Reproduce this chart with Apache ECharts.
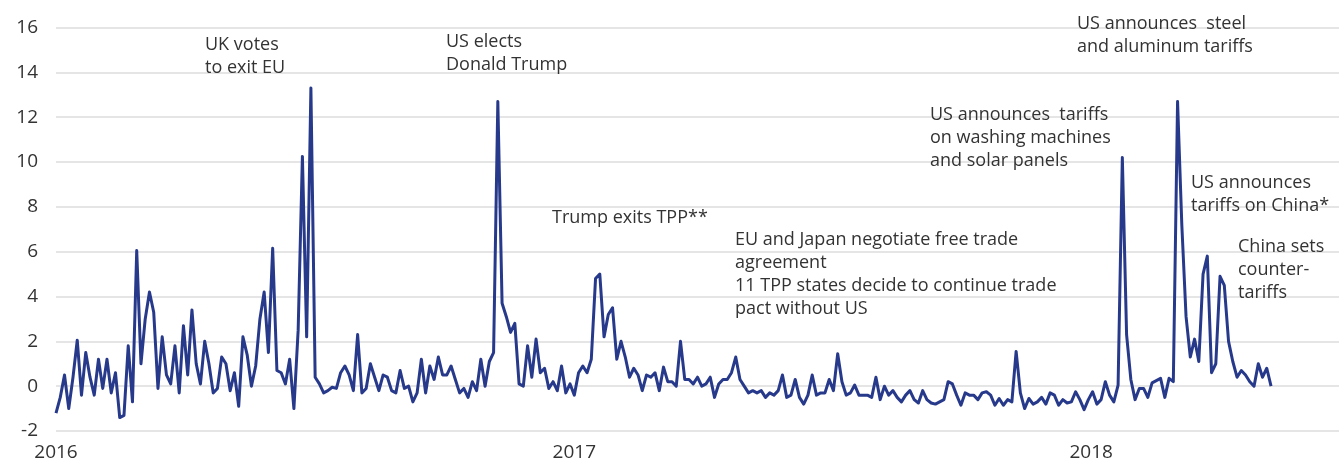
<!DOCTYPE html>
<html>
<head>
<meta charset="utf-8">
<script src="https://cdn.jsdelivr.net/npm/echarts@6/dist/echarts.min.js"></script>
<style>
  html, body { margin: 0; padding: 0; background: #ffffff; }
  #chart { width: 1339px; height: 461px; }
</style>
</head>
<body>
<div id="chart"></div>
<script>
// Series sampled every 3 days starting 1 Jan 2016
const startYear = 2016, startMonth = 0, startDay = 1;
const stepDays = 3;

const values2016 = [
  -1.2,-0.5,0.5,-1.0,0.4,2.05,-0.4,1.5,0.4,-0.4,
  1.2,-0.1,1.2,-0.3,0.6,-1.4,-1.3,1.8,-0.7,6.05,
  1.0,3.0,4.2,3.3,-0.1,2.2,0.5,0.1,1.8,-0.3,
  2.7,0.5,3.4,1.0,0.1,2.0,1.0,-0.3,-0.1,1.3,
  1.0,-0.2,0.6,-0.9,2.2,1.4,0.0,0.9,3.0,4.2,
  1.5,6.15,0.7,0.6,0.1,1.2,-1.0,2.5,10.25,2.2,
  13.3,0.4,0.1,-0.3,-0.2,-0.05,-0.1,0.6,0.9,0.5,
  -0.2,2.3,-0.3,-0.1,1.0,0.4,-0.2,0.5,0.4,-0.2,
  -0.3,0.7,-0.1,0.0,-0.7,-0.3,1.2,-0.3,0.9,0.3,
  1.3,0.5,0.5,0.9,0.3,-0.3,-0.1,-0.5,0.2,-0.2,
  1.2,0.0,1.1,1.5,12.7,3.7,3.1,2.4,2.8,0.1,
  0.0,1.8,0.4,2.1,0.6,0.8,-0.1,0.2,-0.2,0.9,
  -0.3,0.1
];
const values2017 = [
  -0.4,0.6,0.9,0.6,1.2,4.8,5.0,2.2,3.2,3.5,
  1.2,2.0,1.3,0.4,0.8,0.5,-0.2,0.5,0.4,0.6,
  -0.2,0.85,0.2,0.2,0.0,2.0,0.3,0.3,0.1,0.4,
  0.0,0.1,0.4,-0.5,0.1,0.3,0.3,0.6,1.3,0.3,
  0.0,-0.3,-0.2,-0.3,-0.2,-0.5,-0.3,-0.4,-0.2,0.5,
  -0.5,-0.4,0.3,-0.5,-0.8,-0.4,0.5,-0.4,-0.3,-0.3,
  0.3,-0.2,1.45,0.2,-0.4,-0.3,0.05,-0.4,-0.4,-0.4,
  -0.5,0.4,-0.6,0.0,-0.4,-0.2,-0.5,-0.7,-0.4,-0.2,
  -0.6,-0.75,-0.2,-0.6,-0.75,-0.8,-0.7,-0.6,0.2,0.1,
  -0.4,-0.85,-0.3,-0.4,-0.4,-0.6,-0.3,-0.25,-0.4,-0.85,
  -0.55,-0.85,-0.6,-0.7,1.55,-0.3,-1.0,-0.55,-0.8,-0.7,
  -0.5,-0.8,-0.3,-0.4,-0.85,-0.6,-0.75,-0.7,-0.25,-0.6,
  -1.05,-0.6
];
const values2018 = [
  -0.25,-0.8,-0.6,0.2,-0.4,-0.7,0.05,10.2,2.3,0.3,
  -0.6,-0.1,-0.1,-0.5,0.15,0.25,0.35,-0.5,0.35,0.2,
  12.7,7.2,3.1,1.3,2.1,1.1,5.0,5.8,0.6,1.0,
  4.9,4.5,2.0,1.1,0.4,0.7,0.5,0.2,0.0,1.0,
  0.4,0.8,0.0
];

const yearLabels = ['2016', '2017', '2018'];
const yTicks = { min: -2, max: 16, interval: 2 };
const axisEnd = [2018, 5, 25];

const annotations = [
  { text: 'UK votes\nto exit EU', left: 205, top: 33 },
  { text: 'US elects\nDonald Trump', left: 446, top: 30 },
  { text: 'Trump exits TPP**', left: 552, top: 206 },
  { text: 'EU and Japan negotiate free trade\nagreement\n11 TPP states decide to continue trade\npact without US', left: 735, top: 228 },
  { text: 'US announces  tariffs\non washing machines\nand solar panels', left: 930, top: 103 },
  { text: 'US announces  steel\nand aluminum tariffs', left: 1077, top: 12 },
  { text: 'US announces\ntariffs on China*', left: 1191, top: 171 },
  { text: 'China sets\ncounter-\ntariffs', left: 1238, top: 235 }
];

const allValues = values2016.concat(values2017, values2018);
const seriesData = allValues.map((v, i) => [
  new Date(startYear, startMonth, startDay + i * stepDays).getTime(), v
]);
const yearTicks = yearLabels.map(y => new Date(Number(y), 0, 1).getTime());

const chart = echarts.init(document.getElementById('chart'), null, { renderer: 'canvas' });
const FONT = '"Open Sans", "Noto Sans", sans-serif';
const TEXT_COLOR = '#333333';

chart.setOption({
  animation: false,
  backgroundColor: '#ffffff',
  grid: { left: 56, right: 0, top: 27.5, bottom: 30, outerBoundsMode: 'none' },
  xAxis: {
    type: 'value',
    min: yearTicks[0],
    max: new Date(axisEnd[0], axisEnd[1], axisEnd[2]).getTime(),
    axisLine: { show: false },
    axisTick: { show: false },
    splitLine: { show: false },
    axisLabel: {
      customValues: yearTicks,
      formatter: (val) => String(new Date(val).getFullYear()),
      color: TEXT_COLOR,
      fontFamily: FONT,
      fontSize: 19,
      margin: 12,
      hideOverlap: false
    }
  },
  yAxis: {
    type: 'value',
    min: yTicks.min,
    max: yTicks.max,
    interval: yTicks.interval,
    axisLine: { show: false },
    axisTick: { show: false },
    splitLine: { show: true, lineStyle: { color: '#dcdcdc', width: 1.5 } },
    axisLabel: {
      color: TEXT_COLOR,
      fontFamily: FONT,
      fontSize: 19,
      margin: 18
    }
  },
  series: [{
    type: 'line',
    data: seriesData,
    showSymbol: false,
    symbol: 'none',
    lineStyle: { color: '#27398a', width: 3, join: 'round' },
    z: 3
  }],
  graphic: annotations.map(a => ({
    type: 'text',
    left: a.left,
    top: a.top,
    z: 10,
    style: {
      text: a.text,
      fill: TEXT_COLOR,
      font: '18px ' + FONT,
      lineHeight: 23
    }
  }))
});
</script>
</body>
</html>
